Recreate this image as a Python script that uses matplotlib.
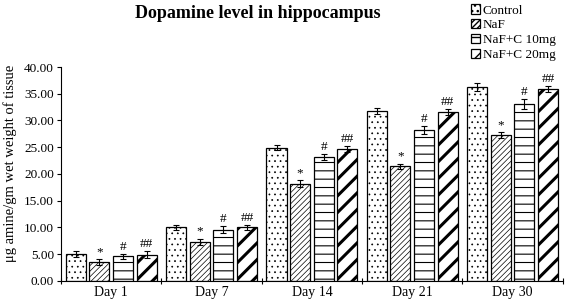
import numpy as np
import matplotlib.pyplot as plt

days = ['Day 1', 'Day 7', 'Day 14', 'Day 21', 'Day 30']
groups = ['Control', 'NaF', 'NaF+C 10mg', 'NaF+C 20mg']
control = [5.0, 10.0, 24.9, 31.8, 36.3]
naf = [3.5, 7.3, 18.2, 21.4, 27.3]
naf_c10 = [4.6, 9.6, 23.2, 28.2, 33.1]
naf_c20 = [4.9, 10.0, 24.7, 31.6, 35.9]
control_err = [0.5, 0.5, 0.5, 0.5, 0.7]
naf_err = [0.5, 0.6, 0.6, 0.5, 0.5]
naf_c10_err = [0.5, 0.6, 0.6, 0.7, 0.9]
naf_c20_err = [0.6, 0.5, 0.5, 0.6, 0.6]
marks = ['', '*', '#', '##']

plt.rcParams['font.family'] = ['Liberation Serif', 'DejaVu Serif']

fig = plt.figure(figsize=(5.65, 3.02), dpi=100)
ax = fig.add_axes([0.108, 0.070, 0.888, 0.708])

x = np.arange(len(days))
w = 0.2
step = 0.235
series = [control, naf, naf_c10, naf_c20]
errs = [control_err, naf_err, naf_c10_err, naf_c20_err]
hatches = ['...', '//////', '--', '//']
hlw = [0.5, 0.5, 0.8, 2.2]
for i in range(4):
    with plt.rc_context({'hatch.linewidth': hlw[i]}):
        pos = x + step * (i - 1.5)
        ax.bar(pos, series[i], w, color='white', edgecolor='black', hatch=hatches[i],
               linewidth=0.9, label=groups[i], zorder=2)
        ax.errorbar(pos, series[i], yerr=errs[i], fmt='none', ecolor='black',
                    elinewidth=0.8, capsize=2.5, capthick=0.8, zorder=3)
        if marks[i]:
            for p, v, e in zip(pos, series[i], errs[i]):
                ax.text(p, v + e + 0.2, marks[i], ha='center', va='bottom', fontsize=9.5)

ax.set_xlim(-0.5, 4.5)
ax.set_ylim(0, 40)
ax.set_yticks(np.arange(0, 40.1, 5))
ax.set_yticklabels(['%.2f' % v for v in np.arange(0, 40.1, 5)], fontsize=9.5)
ax.set_xticks(np.arange(-0.5, 4.6, 1))
ax.set_xticklabels([])
ax.set_xticks(x, minor=True)
ax.set_xticklabels(days, minor=True, fontsize=10)
ax.tick_params(axis='x', which='minor', length=0, pad=4)
ax.tick_params(axis='x', which='major', direction='inout', length=5)
ax.tick_params(axis='y', length=3, pad=2)
ax.spines['top'].set_visible(False)
ax.spines['right'].set_visible(False)
ax.set_ylabel('μg amine/gm wet weight of tissue', fontsize=10.5)
ax.yaxis.set_label_coords(-0.087, 0.55)

fig.text(0.457, 0.955, 'Dopamine level in hippocampus', ha='center', va='center',
         fontsize=13, fontweight='bold')
fig.legend(loc='upper left', bbox_to_anchor=(0.812, 1.025), frameon=False, fontsize=9.5,
           handlelength=0.7, handleheight=0.7, handletextpad=0.2, labelspacing=0.2)

plt.savefig('out.png', dpi=100)
